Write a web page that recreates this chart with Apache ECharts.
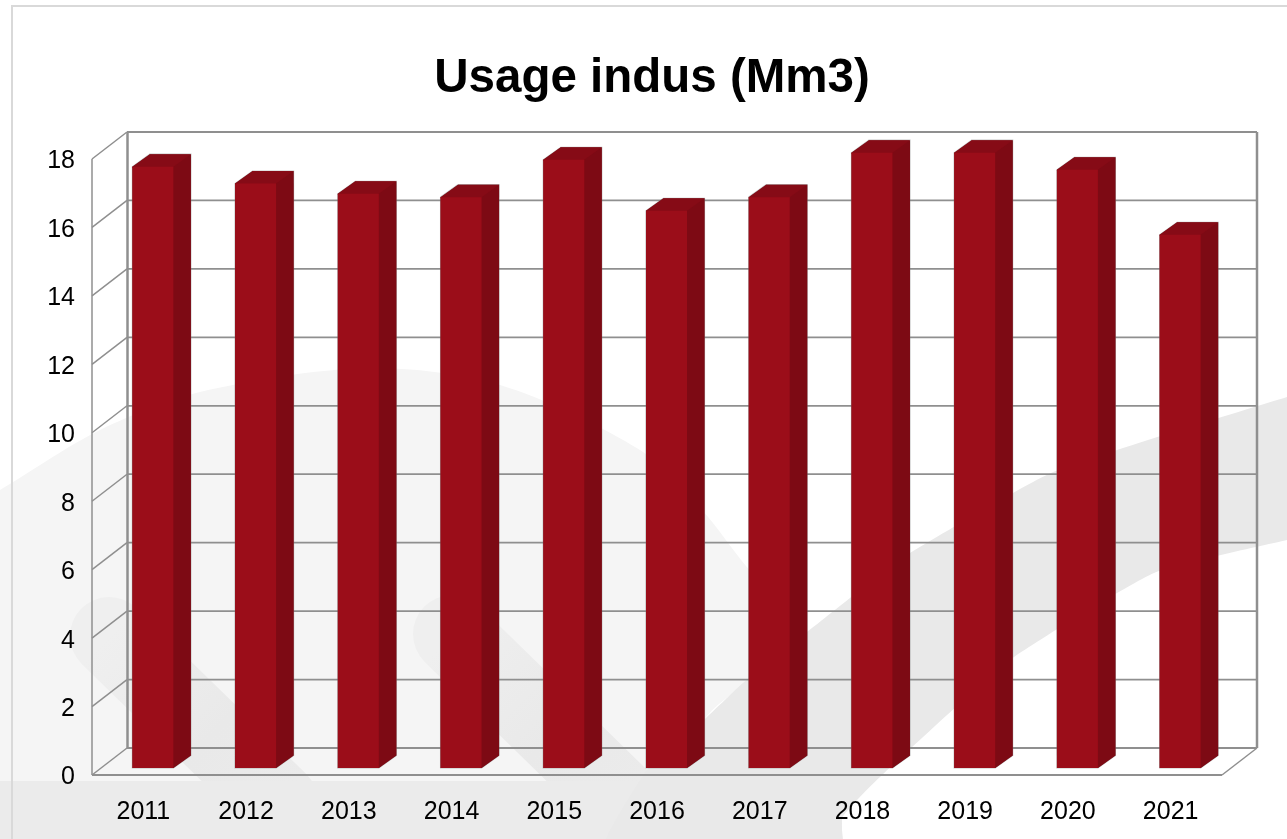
<!DOCTYPE html>
<html>
<head>
<meta charset="utf-8">
<title>Usage indus (Mm3)</title>
<script src="https://cdn.jsdelivr.net/npm/echarts@6/dist/echarts.min.js"></script>
<style>
  html, body { margin: 0; padding: 0; background: #fff; }
  #main { width: 1287px; height: 839px; }
</style>
</head>
<body>
<div id="main"></div>
<script>
  var years = ['2011', '2012', '2013', '2014', '2015', '2016', '2017', '2018', '2019', '2020', '2021'];
  var usage = [17.57, 17.08, 16.78, 16.68, 17.77, 16.28, 16.68, 17.98, 17.98, 17.48, 15.58];
  var yTicks = [0, 2, 4, 6, 8, 10, 12, 14, 16, 18];

  var chart = echarts.init(document.getElementById('main'), null, { renderer: 'canvas' });

  // depth of the fake 3d box
  var wallDx = 35, wallDy = 27;
  var gridColor = '#8f8f8f';

  function wallLine(x1, y1, x2, y2, w) {
    return {
      type: 'line',
      shape: { x1: x1, y1: y1, x2: x2, y2: y2 },
      style: { stroke: gridColor, lineWidth: w || 2 }
    };
  }

  function renderWall(params, api) {
    var p = api.coord([0, api.value(1)]);
    var cs = params.coordSys;
    var left = cs.x, right = cs.x + cs.width;
    var y = p[1];
    var items = [
      wallLine(left, y, left + wallDx, y - wallDy, 1.5),
      wallLine(left + wallDx, y - wallDy, right + wallDx, y - wallDy, 1.8)
    ];
    if (params.dataIndex === 0) {
      var top = api.coord([0, 18])[1];
      items.push(wallLine(left, y, right, y, 1.8));
      items.push(wallLine(right, y, right + wallDx, y - wallDy, 1.5));
      items.push(wallLine(left, y, left, top, 1.5));
      items.push(wallLine(left + wallDx + 0.5, y - wallDy, left + wallDx + 0.5, top - wallDy, 2.5));
      items.push(wallLine(right + wallDx, y - wallDy, right + wallDx, top - wallDy, 2.5));
    }
    return { type: 'group', children: items };
  }

  function renderBar(params, api) {
    var base = api.coord([api.value(0), 0]);
    var tip = api.coord([api.value(0), api.value(1)]);
    var x0 = base[0] - 11, x1 = x0 + 41;
    var yb = base[1] - 7, yt = tip[1] - 7;
    var dx = 17.5, dy = 12.5;
    return {
      type: 'group',
      children: [
        // thin grey halo round the whole box
        {
          type: 'polygon',
          shape: { points: [[x0, yb], [x0, yt], [x0 + dx, yt - dy], [x1 + dx, yt - dy], [x1 + dx, yb - dy], [x1, yb]] },
          style: { fill: '#7d0a14', stroke: 'rgba(120,120,120,0.45)', lineWidth: 1.2 }
        },
        // side and top run 1px under the front so no seam shows
        {
          type: 'polygon',
          shape: { points: [[x1 - 1, yt], [x1 + dx, yt - dy], [x1 + dx, yb - dy], [x1, yb], [x1 - 1, yb]] },
          style: { fill: '#7d0a14' }
        },
        {
          type: 'polygon',
          shape: { points: [[x0, yt + 1], [x0, yt], [x0 + dx, yt - dy], [x1 + dx, yt - dy], [x1, yt], [x1, yt + 1]] },
          style: { fill: '#860b16' }
        },
        {
          type: 'rect',
          shape: { x: x0, y: yt, width: x1 - x0, height: yb - yt },
          style: { fill: '#9b0d19' }
        }
      ]
    };
  }

  function capsuleFill(x1, y1, x2, y2) {
    return {
      type: 'linear', global: true, x: x1, y: y1, x2: x2, y2: y2,
      colorStops: [{ offset: 0, color: '#efefef' }, { offset: 0.6, color: '#e9e9e9' }, { offset: 1, color: '#ebebeb' }]
    };
  }

  chart.setOption({
    backgroundColor: 'transparent',
    animation: false,
    title: {
      text: 'Usage indus (Mm3)',
      left: 647,
      top: 50,
      textAlign: 'center',
      textStyle: { fontFamily: 'Liberation Sans', fontWeight: 'bold', fontSize: 47.5, color: '#000' }
    },
    // page decoration behind the chart
    graphic: [
      {
        type: 'polygon', z: -10, silent: true,
        shape: {
          smooth: 0.3,
          points: [[-60, 525], [0, 490], [100, 430], [200, 392], [367, 368], [500, 385], [640, 450], [702, 510],
            [746, 566], [805, 633], [702, 723], [640, 900], [-60, 900]]
        },
        style: { fill: '#f5f5f5' }
      },
      {
        type: 'line', z: -9, silent: true,
        shape: { x1: 109, y1: 636, x2: 279, y2: 802 },
        style: { stroke: capsuleFill(109, 636, 279, 802), lineWidth: 78, lineCap: 'round' }
      },
      {
        type: 'line', z: -9, silent: true,
        shape: { x1: 452, y1: 634, x2: 622, y2: 800 },
        style: { stroke: capsuleFill(452, 634, 622, 800), lineWidth: 78, lineCap: 'round' }
      },
      {
        type: 'rect', z: -8, silent: true,
        shape: { x: 0, y: 781, width: 842, height: 58 },
        style: { fill: '#ebebeb' }
      },
      {
        type: 'polygon', z: -8, silent: true,
        shape: {
          smooth: 0.15,
          points: [[1340, 385], [1287, 397], [1051, 473], [887, 567], [850, 598], [743, 683], [707, 717], [647, 770], [600, 860],
            [842, 860], [842, 818], [880, 777], [1010, 660], [1154, 573], [1287, 540], [1340, 530]]
        },
        style: { fill: '#e9e9e9' }
      },
      {
        type: 'polyline', z: -7, silent: true,
        shape: { points: [[12, 839], [12, 6], [1287, 6]] },
        style: { stroke: '#d9d9d9', fill: null, lineWidth: 2 }
      }
    ],
    grid: { left: 92, right: 65, top: 159, bottom: 64 },
    xAxis: {
      type: 'category',
      data: years,
      axisLine: { show: false },
      axisTick: { show: false },
      axisLabel: { fontFamily: 'Liberation Sans', fontSize: 25, color: '#000', margin: 25, interval: 0 }
    },
    yAxis: {
      type: 'value',
      min: 0,
      max: 18,
      interval: 2,
      axisLine: { show: false },
      axisTick: { show: false },
      splitLine: { show: false },
      axisLabel: {
        fontFamily: 'Liberation Sans', fontSize: 25, color: '#000', margin: 17,
        verticalAlign: 'top', padding: [-10, 0, 0, 0]
      }
    },
    series: [
      {
        type: 'custom',
        name: 'wall',
        silent: true,
        clip: false,
        z: 1,
        encode: { x: 0, y: 1 },
        data: yTicks.map(function (t) { return [0, t]; }),
        renderItem: renderWall
      },
      {
        type: 'custom',
        name: 'Usage indus (Mm3)',
        clip: false,
        z: 3,
        encode: { x: 0, y: 1 },
        data: usage.map(function (v, i) { return [i, v]; }),
        renderItem: renderBar
      }
    ]
  });
</script>
</body>
</html>
